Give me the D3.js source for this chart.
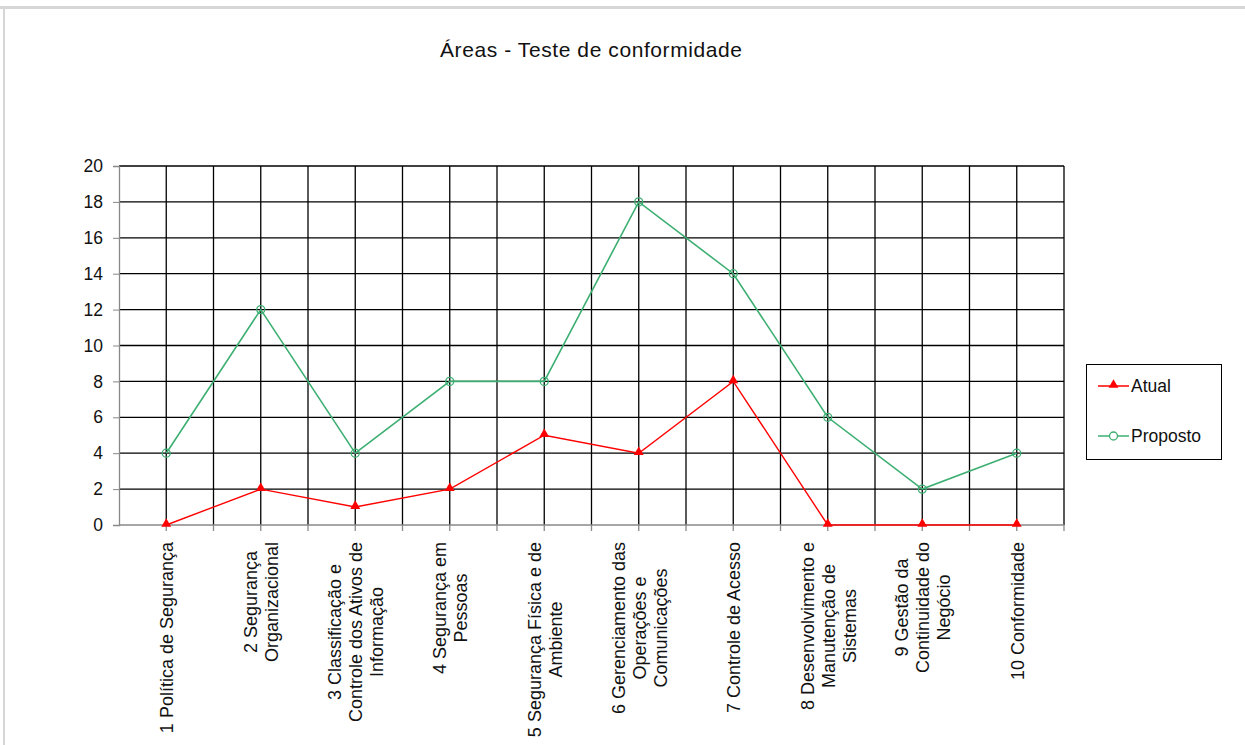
<!DOCTYPE html>
<html lang='pt'>
<head>
<meta charset='utf-8'>
<title>Áreas - Teste de conformidade</title>
<script src='https://cdn.jsdelivr.net/npm/d3@7'></script>
<style>
	body { margin: 0; background: #fff; }
	text { font-family: 'Liberation Sans', Arial, sans-serif; fill: #111; }
</style>
</head>
<body>
<script>
// data
var areas = [
	['1 Política de Segurança'],
	['2 Segurança', 'Organizacional'],
	['3 Classificação e', 'Controle dos Ativos de', 'Informação'],
	['4 Segurança em', 'Pessoas'],
	['5 Segurança Física e de', 'Ambiente'],
	['6 Gerenciamento das', 'Operações e', 'Comunicações'],
	['7 Controle de Acesso'],
	['8 Desenvolvimento e', 'Manutenção de', 'Sistemas'],
	['9 Gestão da', 'Continuidade do', 'Negócio'],
	['10 Conformidade']
];
var atual = [0, 2, 1, 2, 5, 4, 8, 0, 0, 0];
var proposto = [4, 12, 4, 8, 8, 18, 14, 6, 2, 4];
var yTicks = [0, 2, 4, 6, 8, 10, 12, 14, 16, 18, 20];
var seriesNames = ['Atual', 'Proposto'];

var width = 1245, height = 745;
var pLeft = 119, pRight = 1064, pTop = 166, pBottom = 525;
var red = '#ff0000', green = '#3daf72';
var fs = '17.5px';

var svg = d3.select('body').append('svg').attr('width', width).attr('height', height);

// page frame
svg.append('rect').attr('x', 0).attr('y', 6).attr('width', width).attr('height', 3).attr('fill', '#d6d6d6');
svg.append('rect').attr('x', 3).attr('y', 9).attr('width', 2).attr('height', height).attr('fill', '#d6d6d6');

svg.append('text').attr('x', 440).attr('y', 57)
	.attr('font-size', '21px').attr('textLength', 302).attr('lengthAdjust', 'spacing')
	.text('Áreas - Teste de conformidade');

var idx = d3.range(areas.length);
var x = d3.scaleBand().domain(idx).range([pLeft, pRight]).padding(0);
var y = d3.scaleLinear().domain([0, 20]).range([pBottom, pTop]);
var cx = i => x(i) + x.bandwidth() / 2;

// grid
var vlines = [];
idx.forEach(function(i) { vlines.push(x(i) + x.bandwidth() / 2); vlines.push(x(i) + x.bandwidth()); });
svg.append('g').selectAll('line').data(vlines).enter().append('line')
	.attr('x1', d => d).attr('x2', d => d).attr('y1', pTop).attr('y2', pBottom)
	.attr('stroke', '#000').attr('stroke-width', 1.3);
svg.append('g').selectAll('line').data(yTicks.filter(d => d > 0)).enter().append('line')
	.attr('x1', pLeft).attr('x2', pRight).attr('y1', d => y(d)).attr('y2', d => y(d))
	.attr('stroke', '#000').attr('stroke-width', 1.3);

// axes
var yAxis = svg.append('g').attr('transform', 'translate(' + pLeft + ',0)')
	.call(d3.axisLeft(y).tickValues(yTicks).tickSize(6).tickPadding(10));
yAxis.selectAll('text').attr('font-size', fs).attr('font-family', null);
yAxis.selectAll('.tick line').attr('stroke', '#888');
yAxis.select('.domain').attr('stroke', '#888').attr('stroke-width', 1.3);
var xAxis = svg.append('g').attr('transform', 'translate(0,' + pBottom + ')');
xAxis.append('line').attr('x1', pLeft).attr('x2', pRight).attr('y1', 0).attr('y2', 0);
xAxis.selectAll('.t').data(vlines).enter().append('line').attr('class', 't')
	.attr('x1', d => d).attr('x2', d => d).attr('y1', 0).attr('y2', 6);
xAxis.selectAll('line').attr('stroke', '#888').attr('stroke-width', 1.3);

// category labels, rotated, lines centered
var lineGap = 21, labTop = 542;
var labs = svg.append('g').selectAll('g').data(areas).enter().append('g');
labs.each(function(lines, i) {
	var g = d3.select(this);
	var t = g.selectAll('text').data(lines).enter().append('text')
		.attr('text-anchor', 'middle').attr('font-size', '18px').text(d => d);
	var maxW = d3.max(t.nodes(), n => n.getComputedTextLength());
	var n = lines.length;
	t.attr('transform', function(d, j) {
		var px = cx(i) + (j - (n - 1) / 2) * lineGap + 7;
		return 'translate(' + px + ',' + (labTop + maxW / 2) + ')rotate(-90)';
	});
});

// series
var line = d3.line().x((d, i) => cx(i)).y(d => y(d));
svg.append('path').datum(atual).attr('d', line).attr('fill', 'none').attr('stroke', red).attr('stroke-width', 1.4);
svg.append('path').datum(proposto).attr('d', line).attr('fill', 'none').attr('stroke', green).attr('stroke-width', 1.6);

var tri = d3.symbol().type(d3.symbolTriangle).size(42);
svg.append('g').selectAll('path').data(atual).enter().append('path')
	.attr('d', tri).attr('transform', (d, i) => 'translate(' + cx(i) + ',' + (y(d) - 1) + ')').attr('fill', red);
svg.append('g').selectAll('circle').data(proposto).enter().append('circle')
	.attr('cx', (d, i) => cx(i)).attr('cy', d => y(d)).attr('r', 4)
	.attr('fill', 'none').attr('stroke', green).attr('stroke-width', 1.3);

// legend
var leg = svg.append('g');
leg.append('rect').attr('x', 1086.5).attr('y', 364.5).attr('width', 135).attr('height', 95)
	.attr('fill', '#fff').attr('stroke', '#000').attr('stroke-width', 1);
var items = leg.selectAll('g').data(seriesNames).enter().append('g')
	.attr('transform', (d, i) => 'translate(1098,' + (386 + i * 50) + ')');
items.append('line').attr('x1', 0).attr('x2', 31).attr('y1', 0).attr('y2', 0)
	.attr('stroke', (d, i) => i ? green : red).attr('stroke-width', 1.5);
items.filter((d, i) => i === 0).append('path').attr('d', tri).attr('transform', 'translate(15.5,-1)').attr('fill', red);
items.filter((d, i) => i === 1).append('circle').attr('cx', 15.5).attr('cy', 0).attr('r', 4)
	.attr('fill', '#fff').attr('stroke', green).attr('stroke-width', 1.3);
items.append('text').attr('x', 33).attr('y', 6).attr('font-size', fs).text(d => d);
</script>
</body>
</html>
